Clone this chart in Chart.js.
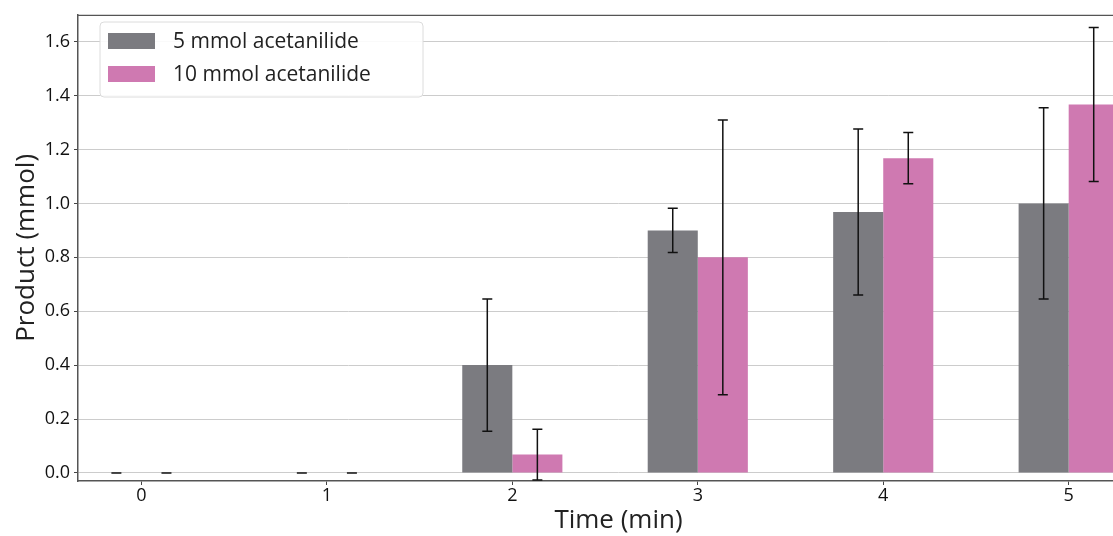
<!DOCTYPE html>
<html>
<head>
<meta charset="utf-8">
<script src="https://cdn.jsdelivr.net/npm/chart.js@4"></script>
<style>
  html, body { margin: 0; padding: 0; background: #fff; overflow: hidden; }
  #wrap { width: 1113px; height: 536px; overflow: hidden; }
</style>
</head>
<body>
<div id="wrap"><canvas id="chart" width="1159" height="536"></canvas></div>
<script>
// values
const timeLabels = [0, 1, 2, 3, 4, 5];
const seriesNames = ['5 mmol acetanilide', '10 mmol acetanilide'];
const mean5 = [0, 0, 0.40, 0.90, 0.968, 1.00];
const err5 = [0, 0, 0.245, 0.082, 0.308, 0.355];
const mean10 = [0, 0, 0.068, 0.80, 1.168, 1.367];
const err10 = [0, 0, 0.094, 0.51, 0.095, 0.286];
const yTickValues = [0, 0.2, 0.4, 0.6, 0.8, 1.0, 1.2, 1.4, 1.6];

const grey = '#7b7b80';
const pink = '#cf79b1';
const FONT = "'Open Sans', 'DejaVu Sans', sans-serif";

function points(means) {
  return timeLabels.map((t, i) => ({ x: t, y: means[i] }));
}

// error bars, drawn through the chart's scales
const errorBars = {
  id: 'errorBars',
  afterDatasetsDraw(chart) {
    const ctx = chart.ctx;
    const ys = chart.scales.y;
    const errs = [err5, err10];
    const means = [mean5, mean10];
    ctx.save();
    ctx.strokeStyle = '#111';
    ctx.lineWidth = 1.5;
    chart.data.datasets.forEach((ds, d) => {
      const meta = chart.getDatasetMeta(d);
      meta.data.forEach((bar, i) => {
        const x = bar.x;
        const top = ys.getPixelForValue(means[d][i] + errs[d][i]);
        const bot = ys.getPixelForValue(means[d][i] - errs[d][i]);
        ctx.beginPath();
        ctx.moveTo(x, top); ctx.lineTo(x, bot);
        ctx.moveTo(x - 5, top); ctx.lineTo(x + 5, top);
        ctx.moveTo(x - 5, bot); ctx.lineTo(x + 5, bot);
        ctx.stroke();
      });
    });
    ctx.restore();
  }
};

// top spine + legend inside the plot
const frameAndLegend = {
  id: 'frameAndLegend',
  afterDraw(chart) {
    const ctx = chart.ctx;
    const a = chart.chartArea;
    ctx.save();
    ctx.strokeStyle = '#555';
    ctx.lineWidth = 1.3;
    ctx.beginPath();
    ctx.moveTo(a.left, a.top + 0.5);
    ctx.lineTo(a.right, a.top + 0.5);
    ctx.lineTo(a.right, a.bottom);
    ctx.stroke();

    // legend box
    const bx = 100, by = 22, bw = 323, bh = 75, r = 4;
    ctx.beginPath();
    ctx.moveTo(bx + r, by);
    ctx.arcTo(bx + bw, by, bx + bw, by + bh, r);
    ctx.arcTo(bx + bw, by + bh, bx, by + bh, r);
    ctx.arcTo(bx, by + bh, bx, by, r);
    ctx.arcTo(bx, by, bx + bw, by, r);
    ctx.closePath();
    ctx.fillStyle = 'rgba(255,255,255,0.9)';
    ctx.fill();
    ctx.strokeStyle = '#dcdcdc';
    ctx.lineWidth = 1;
    ctx.stroke();

    ctx.font = '21px ' + FONT;
    ctx.textBaseline = 'middle';
    chart.data.datasets.forEach((ds, d) => {
      const cy = 41 + d * 33;
      ctx.fillStyle = ds.backgroundColor;
      ctx.fillRect(108, cy - 8, 47, 16);
      ctx.fillStyle = '#222';
      ctx.fillText(ds.label, 173, cy + 1);
    });
    ctx.restore();
  }
};

new Chart(document.getElementById('chart'), {
  type: 'bar',
  data: {
    datasets: [
      { label: seriesNames[0], data: points(mean5), backgroundColor: grey, borderWidth: 0 },
      { label: seriesNames[1], data: points(mean10), backgroundColor: pink, borderWidth: 0 }
    ]
  },
  options: {
    responsive: false,
    animation: false,
    devicePixelRatio: 1,
    layout: { padding: { top: 12, left: 0, right: 0, bottom: 0 } },
    datasets: { bar: { categoryPercentage: 0.54, barPercentage: 1.0 } },
    plugins: { legend: { display: false }, tooltip: { enabled: false } },
    scales: {
      x: {
        type: 'linear',
        offset: false,
        min: -0.342,
        max: 5.487,
        afterBuildTicks(scale) { scale.ticks = timeLabels.map(v => ({ value: v })); },
        afterFit(scale) { scale.height = 55; },
        grid: { offset: false, drawOnChartArea: false, drawTicks: true, tickLength: 4, tickColor: '#444' },
        border: { display: true, color: '#555', width: 1.5 },
        ticks: { color: '#111', font: { family: FONT, size: 18 }, padding: 0, maxRotation: 0 },
        title: { display: true, text: 'Time (min)', color: '#222', font: { family: FONT, size: 26 }, padding: { top: 0, bottom: 0 } }
      },
      y: {
        min: -0.03,
        max: 1.70,
        afterBuildTicks(scale) { scale.ticks = yTickValues.map(v => ({ value: v })); },
        afterFit(scale) { scale.width = 78; },
        grid: { color: '#cccccc', lineWidth: 1, drawTicks: true, tickLength: 4, tickColor: '#444' },
        border: { display: true, color: '#555', width: 1.5 },
        ticks: { color: '#111', font: { family: FONT, size: 18 }, padding: 4, callback: v => v.toFixed(1) },
        title: { display: true, text: 'Product (mmol)', color: '#222', font: { family: FONT, size: 26 }, padding: { top: 11, bottom: 0 } }
      }
    }
  },
  plugins: [errorBars, frameAndLegend]
});
</script>
</body>
</html>
